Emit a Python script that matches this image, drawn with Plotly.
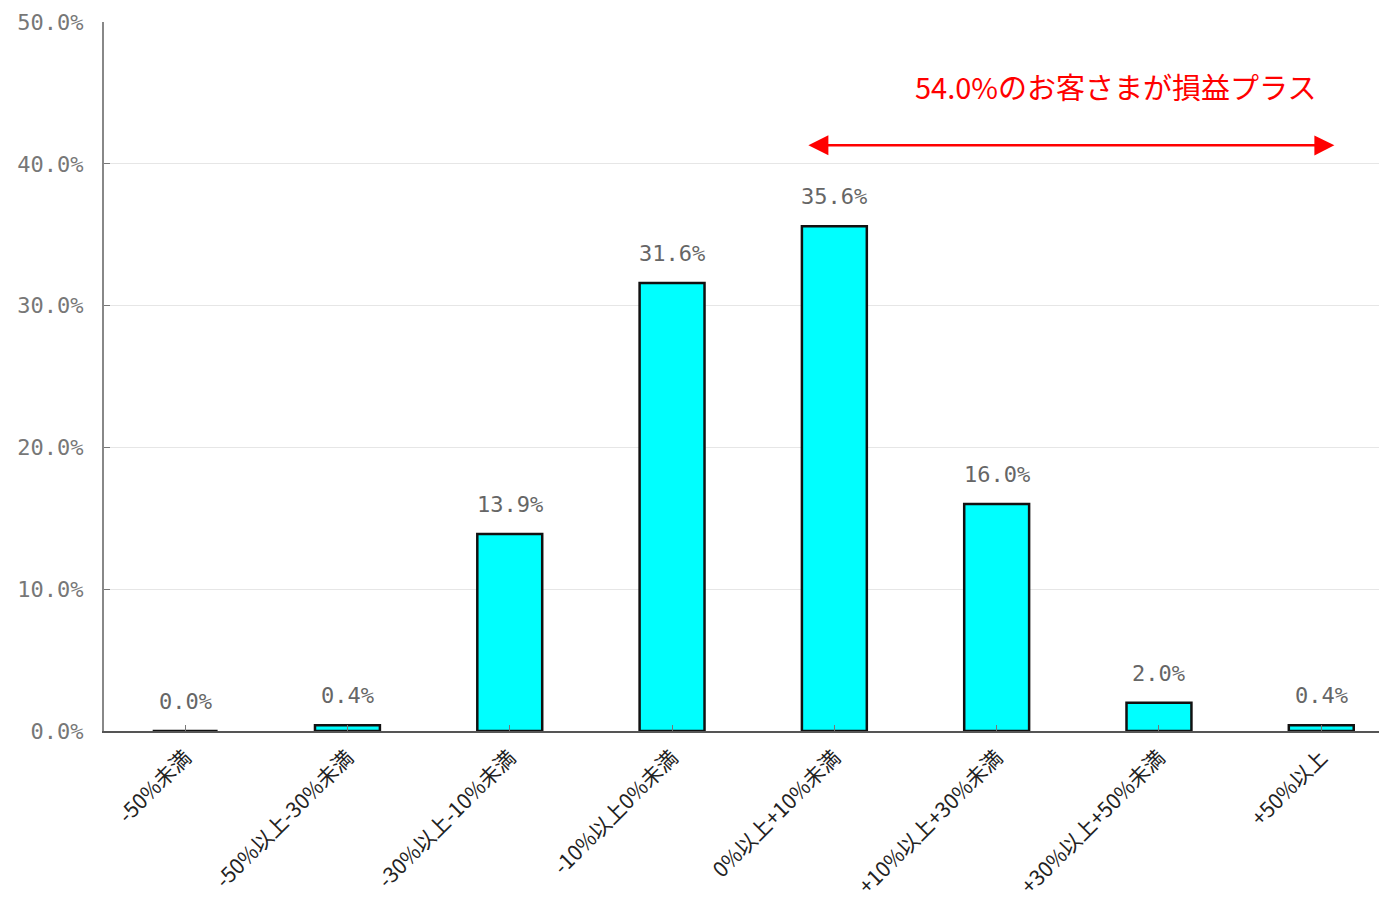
import plotly.graph_objects as go

categories = ["-50%未満", "-50%以上-30%未満", "-30%以上-10%未満", "-10%以上0%未満",
              "0%以上+10%未満", "+10%以上+30%未満", "+30%以上+50%未満", "+50%以上"]
shares = [0.0, 0.4, 13.9, 31.6, 35.6, 16.0, 2.0, 0.4]
y_ticks = [0, 10, 20, 30, 40, 50]
note_text = "54.0%のお客さまが損益プラス"

xs = list(range(len(categories)))

fig = go.Figure(go.Bar(
    x=xs,
    y=shares,
    width=0.4,
    marker=dict(color="#00FFFF", line=dict(color="#111111", width=2.5)),
))

# value labels above the bars
for x, v in zip(xs, shares):
    fig.add_annotation(x=x, y=v, xref="x", yref="y", text=f"{v:.1f}%", showarrow=False,
                       yanchor="bottom", yshift=15,
                       font=dict(family="DejaVu Sans Mono", size=22, color="#666666"))

# double arrow spanning the gain categories
fig.add_annotation(x=3.84, y=41.3, ax=7.09, ay=41.3, xref="x", yref="y", axref="x", ayref="y",
                   text="", showarrow=True, arrowhead=2, arrowside="end+start",
                   arrowsize=1.6, arrowwidth=2.5, arrowcolor="#FF0000")
fig.add_annotation(x=5.73, y=45.5, xref="x", yref="y", text=note_text, showarrow=False,
                   font=dict(family="Noto Sans CJK JP", size=29, color="#FF0000"))

fig.update_layout(
    width=1379, height=906,
    margin=dict(l=96, r=0, t=14, b=183),
    plot_bgcolor="white", paper_bgcolor="white",
    showlegend=False,
)
fig.update_xaxes(
    range=[-0.5, 7.405], automargin=False,
    tickmode="array", tickvals=xs, ticktext=categories,
    tickangle=-45, tickson="boundaries", ticks="inside", ticklen=6, tickcolor="#777777",
    ticklabelstandoff=4,
    showline=True, linecolor="#555555", linewidth=2,
    tickfont=dict(family="Noto Sans CJK JP", size=21, color="#222222"),
)
fig.update_yaxes(
    range=[0, 50], automargin=False, tickvals=y_ticks, ticktext=[f"{v:.1f}%" for v in y_ticks],
    ticks="inside", ticklen=6, tickcolor="#777777", ticklabelstandoff=14,
    showline=True, linecolor="#888888", linewidth=2,
    showgrid=True, gridcolor="#E6E6E6", gridwidth=1, zeroline=False,
    tickfont=dict(family="DejaVu Sans Mono", size=22, color="#777777"),
)

fig.write_html("out.html")
